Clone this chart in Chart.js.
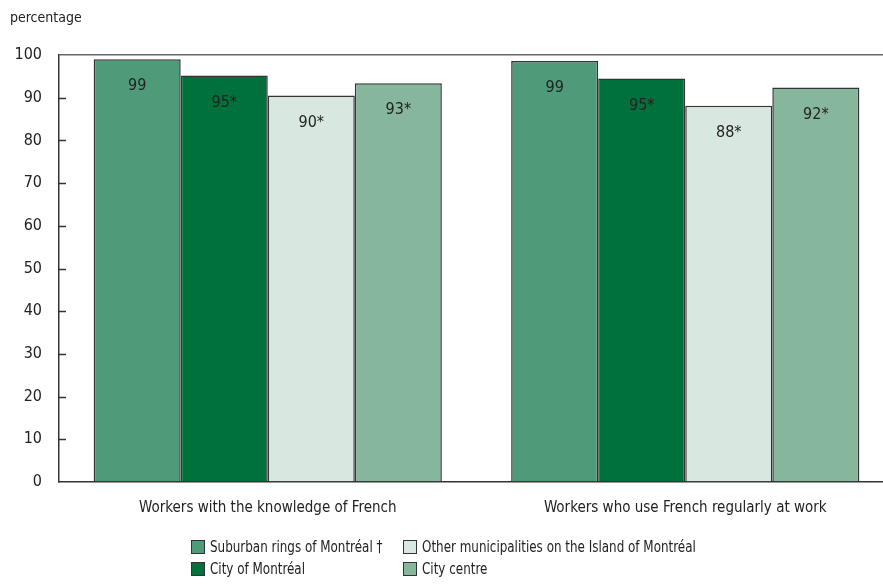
<!DOCTYPE html>
<html>
<head>
<meta charset="utf-8">
<script src="https://cdn.jsdelivr.net/npm/chart.js@4"></script>
<style>
  html, body { margin: 0; padding: 0; background: #fff; }
  #wrap { position: relative; width: 883px; height: 586px; overflow: hidden; }
  #legend {
    position: absolute; left: 0; top: 537px; width: 883px;
    font-family: "Liberation Sans Narrow", "DejaVu Sans Condensed", sans-serif;
    font-size: 16px; color: #222;
  }
  .item { position: absolute; display: flex; align-items: center; white-space: nowrap; }
  .box { width: 12px; height: 12px; border: 1px solid #333; margin-right: 5px; flex: none; }
  .txt { display: inline-block; transform: scaleX(0.83); transform-origin: left center; }
</style>
</head>
<body>
<div id="wrap">
  <canvas id="chart" width="894" height="586"></canvas>
  <div id="legend"></div>
</div>
<script>
// categories and series
const categories = [
  "Workers with the knowledge of French",
  "Workers who use French regularly at work"
];
const seriesNames = [
  "Suburban rings of Montréal †",
  "City of Montréal",
  "Other municipalities on the Island of Montréal",
  "City centre"
];
const suburbanValues = [99.0, 98.6];
const cityValues = [95.2, 94.5];
const otherValues = [90.5, 88.1];
const centreValues = [93.4, 92.4];

// printed labels (rounded, * = significantly different from reference group)
const suburbanLabels = ["99", "99"];
const cityLabels = ["95*", "95*"];
const otherLabels = ["90*", "88*"];
const centreLabels = ["93*", "92*"];

const yTicks = [0, 10, 20, 30, 40, 50, 60, 70, 80, 90, 100];

const colors = ["#4f9a78", "#00703c", "#d8e8e1", "#86b79c"];
const FONT = '"Liberation Sans Narrow", "DejaVu Sans Condensed", sans-serif';

const datasets = [
  { label: seriesNames[0], data: suburbanValues, labels: suburbanLabels },
  { label: seriesNames[1], data: cityValues, labels: cityLabels },
  { label: seriesNames[2], data: otherValues, labels: otherLabels },
  { label: seriesNames[3], data: centreValues, labels: centreLabels }
].map((d, i) => ({
  ...d,
  backgroundColor: colors[i],
  borderColor: "#333",
  borderWidth: 1.5,
  categoryPercentage: 0.834,
  barPercentage: 1.0
}));

// value labels inside the top of each bar, y-axis inner ticks, "percentage" caption
const extras = {
  id: "extras",
  afterDatasetsDraw(chart) {
    const ctx = chart.ctx;
    ctx.save();
    ctx.font = "16px " + FONT;
    ctx.fillStyle = "#222";
    ctx.textAlign = "center";
    ctx.textBaseline = "middle";
    chart.data.datasets.forEach((ds, i) => {
      chart.getDatasetMeta(i).data.forEach((bar, j) => {
        ctx.fillText(ds.labels[j], bar.x, bar.y + 27);
      });
    });

    const y = chart.scales.y;
    const left = chart.chartArea.left;
    ctx.strokeStyle = "#333";
    ctx.lineWidth = 1.5;
    yTicks.forEach((v) => {
      if (v === 0 || v === 100) return;
      const py = Math.round(y.getPixelForValue(v)) + 0.5;
      ctx.beginPath();
      ctx.moveTo(left, py);
      ctx.lineTo(left + 7, py);
      ctx.stroke();
    });

    ctx.font = "14px " + FONT;
    ctx.textAlign = "left";
    ctx.textBaseline = "middle";
    ctx.fillText("percentage", 10, 18);
    ctx.restore();
  }
};

new Chart(document.getElementById("chart"), {
  type: "bar",
  data: { labels: categories, datasets },
  options: {
    responsive: false,
    animation: false,
    layout: { padding: { top: 55, right: 0, bottom: 64, left: 0 } },
    plugins: {
      legend: { display: false },
      tooltip: { enabled: false }
    },
    scales: {
      x: {
        grid: { display: false, drawTicks: false },
        border: { color: "#333", width: 1.5 },
        ticks: { color: "#222", font: { family: FONT, size: 15 }, padding: 17 },
        afterFit: (s) => { s.height = 40; }
      },
      y: {
        min: 0,
        max: 100,
        afterBuildTicks: (s) => { s.ticks = yTicks.map((v) => ({ value: v })); },
        grid: {
          drawTicks: false,
          color: (c) => (c.tick && c.tick.value === 100 ? "#666" : "rgba(0,0,0,0)"),
          lineWidth: 1.5
        },
        border: { color: "#333", width: 1.5 },
        ticks: { color: "#222", font: { family: FONT, size: 16 }, padding: 17 },
        afterFit: (s) => { s.width = 59; }
      }
    }
  },
  plugins: [extras]
});

// legend laid out in two columns like the original
const legendEl = document.getElementById("legend");
const legendPos = [[191, 0], [191, 22], [403, 0], [403, 22]];
seriesNames.forEach((name, i) => {
  const item = document.createElement("div");
  item.className = "item";
  item.style.left = legendPos[i][0] + "px";
  item.style.top = legendPos[i][1] + "px";
  const box = document.createElement("span");
  box.className = "box";
  box.style.background = colors[i];
  const txt = document.createElement("span");
  txt.className = "txt";
  txt.textContent = name;
  item.appendChild(box);
  item.appendChild(txt);
  legendEl.appendChild(item);
});
</script>
</body>
</html>
